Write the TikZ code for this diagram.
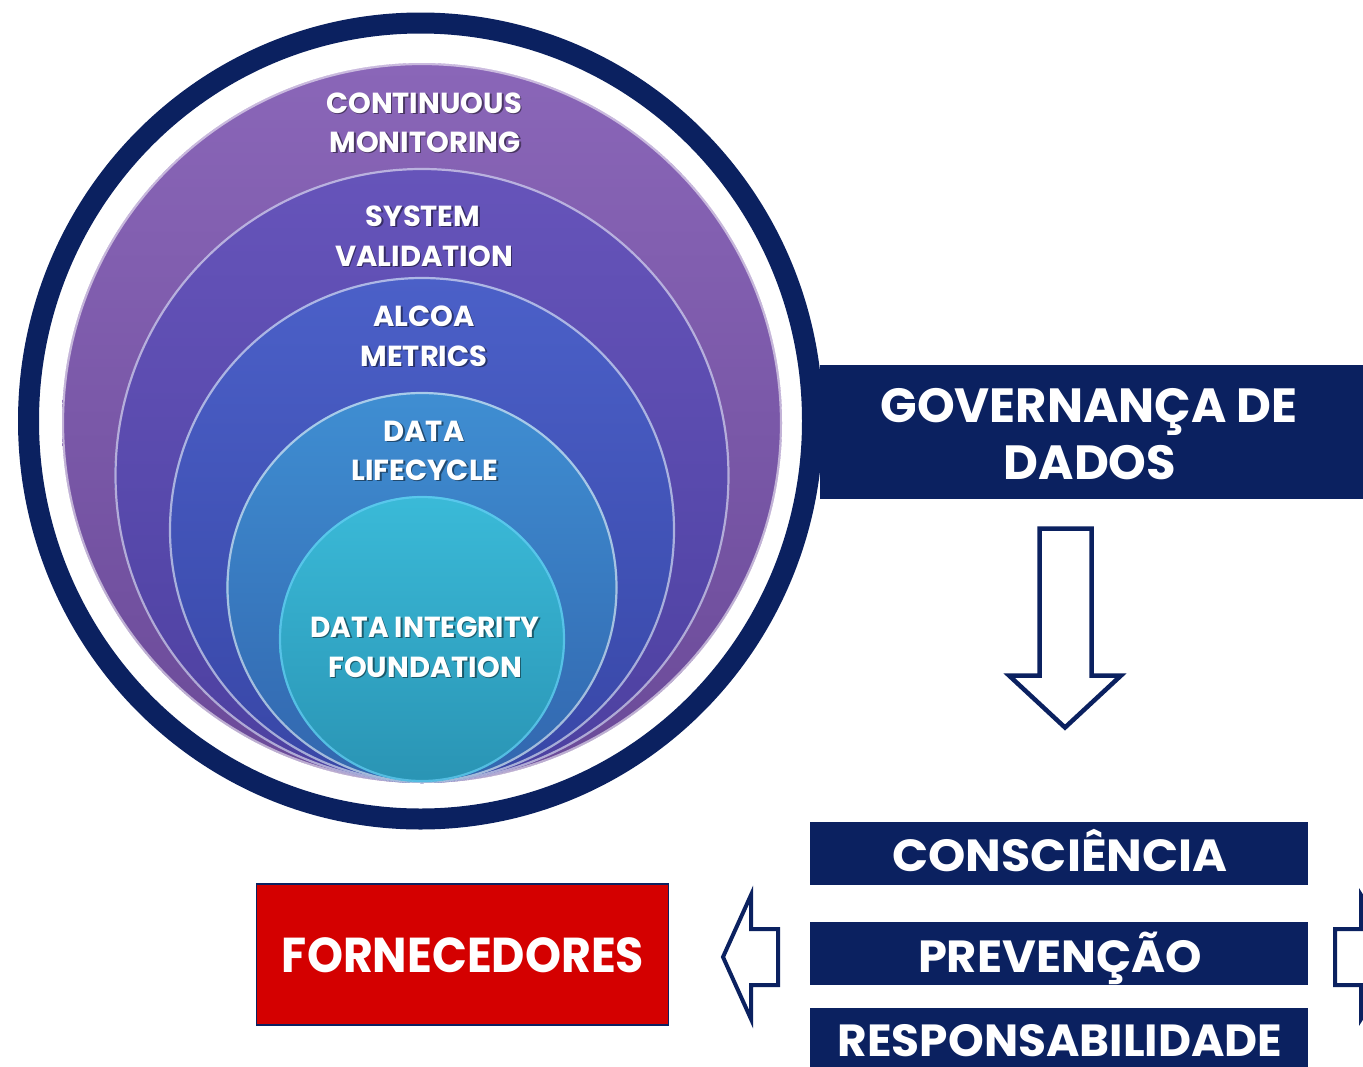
\documentclass[tikz,border=0pt]{standalone}
\usepackage{fontspec}
\newfontfamily\popf{Poppins}
\definecolor{navy}{HTML}{0B2160}
\definecolor{fred}{HTML}{D40000}
\definecolor{cAt}{HTML}{8A66B8}\definecolor{cAb}{HTML}{6A4A98}
\definecolor{cBt}{HTML}{6654BA}\definecolor{cBb}{HTML}{4C40A0}
\definecolor{cCt}{HTML}{4B60C8}\definecolor{cCb}{HTML}{3846A6}
\definecolor{cDt}{HTML}{3F8ED2}\definecolor{cDb}{HTML}{3266AE}
\definecolor{cEt}{HTML}{3ABAD8}\definecolor{cEb}{HTML}{2A94B4}
\newcommand\ctl[4]{%
  \node[cshad,anchor=base,xshift=1.6pt,yshift=-1.6pt] (#1s) at (#2,#3) {#4};
  \node[ctxt,anchor=base] (#1) at (#2,#3) {#4};}
\begin{document}
\begin{tikzpicture}[x=1pt,y=-1pt,
  ctxt/.style={inner sep=0pt,text=white,font=\popf\bfseries\fontsize{29}{34}\selectfont},
  cshad/.style={inner sep=0pt,text=black,text opacity=0.45,font=\popf\bfseries\fontsize{29}{34}\selectfont},
  navybox/.style={fill=navy,draw=none,inner sep=0pt},
  btxt/.style={inner sep=0pt,text=white,font=\popf\bfseries\fontsize{45}{50}\selectfont},
  gtxt/.style={inner sep=0pt,text=white,font=\popf\bfseries\fontsize{48}{54}\selectfont},
  blockarrow/.style={draw=navy,fill=white,line width=4.5pt,line join=miter},
  rim/.style={draw=white,draw opacity=0.55,line width=2.2pt}]
\clip (0,0) rectangle (1363,1066);
\fill[white] (0,0) rectangle (1363,1066);
% governance box (under the ring)
\node[navybox,minimum width=560pt,minimum height=134pt,anchor=north west] (gov) at (820,365) {};
% circles
\shade[top color=cAt,bottom color=cAb] (422,423) circle (360);
\draw[rim] (422,423) circle (359);
\shade[top color=cBt,bottom color=cBb] (422,475.5) circle (307.5);
\draw[rim] (422,475.5) circle (306.5);
\shade[top color=cCt,bottom color=cCb] (422,530) circle (253);
\draw[rim] (422,530) circle (252);
\shade[top color=cDt,bottom color=cDb] (422,587.5) circle (195.5);
\draw[rim] (422,587.5) circle (194.5);
\shade[top color=cEt,bottom color=cEb] (422,639) circle (143);
\draw[draw=cyan!60!white,draw opacity=0.7,line width=2.2pt] (422,639) circle (142);
% outer ring
\draw[navy,line width=21pt] (420.5,421) ellipse [x radius=392,y radius=398];
% circle labels
\ctl{t1a}{424}{113}{CONTINUOUS}
\ctl{t1b}{425}{152}{MONITORING}
\ctl{t2a}{423}{226}{SYSTEM}
\ctl{t2b}{424}{266}{VALIDATION}
\ctl{t3a}{424}{326}{ALCOA}
\ctl{t3b}{424}{366}{METRICS}
\ctl{t4a}{424}{441}{DATA}
\ctl{t4b}{425}{480}{LIFECYCLE}
\ctl{t5a}{425}{637}{\scalebox{0.97}[1]{DATA INTEGRITY}}
\ctl{t5b}{425}{677}{FOUNDATION}
% governance text
\node[gtxt,anchor=base] (g1) at (1089,422) {GOVERNANÇA DE};
\node[gtxt,anchor=base] (g2) at (1090,479) {DADOS};
% down arrow
\draw[blockarrow] (1039.5,528.5) -- (1091.5,528.5) -- (1091.5,675.5) -- (1121,675.5)
  -- (1065,727.5) -- (1009,675.5) -- (1039.5,675.5) -- cycle;
% value boxes
\node[navybox,minimum width=498pt,minimum height=63pt] (cons) at (1059,853.5) {};
\node[btxt,anchor=base] (consT) at (1060,871) {\scalebox{1.055}[1]{CONSCIÊNCIA}};
\node[navybox,minimum width=498pt,minimum height=63pt] (prev) at (1059,953.5) {};
\node[btxt,anchor=base] (prevT) at (1060,972) {\scalebox{1.03}[1]{PREVENÇÃO}};
\node[navybox,minimum width=498pt,minimum height=70pt,anchor=north] (resp) at (1059,1008) {};
\node[btxt,anchor=base] (respT) at (1060,1056) {\scalebox{1.01}[1]{RESPONSABILIDADE}};
% left arrow
\draw[blockarrow,line width=4pt] (723,957) -- (751,895) -- (751,929) -- (778,929)
  -- (778,985) -- (751,985) -- (751,1019) -- cycle;
% right arrow (cut at edge)
\draw[blockarrow,line width=4pt] (1335,929) -- (1361,929) -- (1361,895) -- (1400,957)
  -- (1361,1019) -- (1361,985) -- (1335,985) -- cycle;
% fornecedores
\node[fill=fred,draw=navy,line width=1.5pt,minimum width=412pt,minimum height=141pt,inner sep=0pt] (forn) at (462.5,954.5) {};
\node[inner sep=0pt,text=white,font=\popf\bfseries\fontsize{49}{54}\selectfont,anchor=base] (fornT) at (463,972.5) {\scalebox{0.935}[1]{FORNECEDORES}};
\end{tikzpicture}
\end{document}
